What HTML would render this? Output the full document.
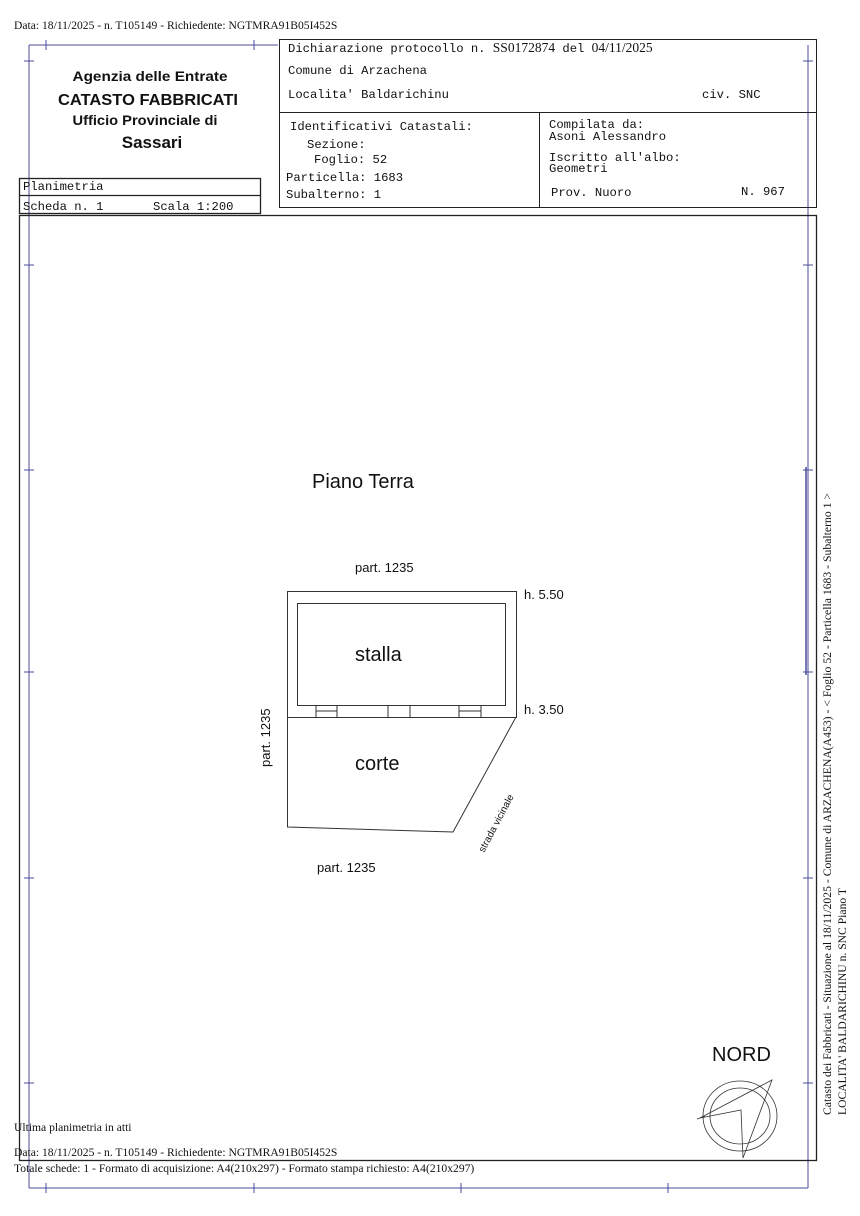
<!DOCTYPE html>
<html><head><meta charset="utf-8"><style>
body{margin:0;background:#fff}
svg{display:block}
.s{font-family:"Liberation Serif",serif}
.m{font-family:"Liberation Mono",monospace}
.a{font-family:"Liberation Sans",sans-serif}
</style></head><body>
<svg width="860" height="1216" viewBox="0 0 860 1216" xmlns="http://www.w3.org/2000/svg">
<g stroke="#4a4e9a" stroke-width="1" fill="none">
<line x1="29" y1="45" x2="29" y2="1188"/>
<line x1="29" y1="1188" x2="808" y2="1188"/>
<line x1="808" y1="45" x2="808" y2="1188"/>
<line x1="29" y1="45" x2="278" y2="45"/>
<line x1="46" y1="40" x2="46" y2="50"/><line x1="254" y1="40" x2="254" y2="50"/>
<line x1="46" y1="1183" x2="46" y2="1193"/><line x1="254" y1="1183" x2="254" y2="1193"/>
<line x1="461" y1="1183" x2="461" y2="1193"/><line x1="668" y1="1183" x2="668" y2="1193"/>
<line x1="24" y1="61" x2="34" y2="61"/><line x1="803" y1="61" x2="813" y2="61"/>
<line x1="24" y1="265" x2="34" y2="265"/><line x1="803" y1="265" x2="813" y2="265"/>
<line x1="24" y1="470" x2="34" y2="470"/><line x1="803" y1="470" x2="813" y2="470"/>
<line x1="24" y1="672" x2="34" y2="672"/><line x1="803" y1="672" x2="813" y2="672"/>
<line x1="24" y1="878" x2="34" y2="878"/><line x1="803" y1="878" x2="813" y2="878"/>
<line x1="24" y1="1083" x2="34" y2="1083"/><line x1="803" y1="1083" x2="813" y2="1083"/>
<line x1="806" y1="467" x2="806" y2="675" stroke-width="1.5"/>
</g>
<g stroke="#222" fill="none" stroke-width="1">
<rect x="19.5" y="215.5" width="797" height="945" stroke-width="1.3"/>
<rect x="279.5" y="39.5" width="537" height="168"/>
<line x1="279" y1="112.5" x2="817" y2="112.5"/>
<line x1="539.5" y1="112" x2="539.5" y2="207"/>
<rect x="19.5" y="178.5" width="241" height="35" stroke-width="1.3"/>
<line x1="19" y1="195.5" x2="260" y2="195.5" stroke-width="1.3"/>
</g>
<g class="s" font-size="11.6" fill="#111">
<text x="14" y="29">Data: 18/11/2025 - n. T105149 - Richiedente: NGTMRA91B05I452S</text>
<text x="14" y="1131">Ultima planimetria in atti</text>
<text x="14" y="1156">Data: 18/11/2025 - n. T105149 - Richiedente: NGTMRA91B05I452S</text>
<text x="14" y="1172">Totale schede: 1 - Formato di acquisizione: A4(210x297)  - Formato stampa richiesto: A4(210x297)</text>
</g>
<g class="a" fill="#111" text-anchor="middle">
<text x="150" y="81" font-size="14" font-weight="bold" textLength="155" lengthAdjust="spacingAndGlyphs">Agenzia delle Entrate</text>
<text x="148" y="105" font-size="16" font-weight="bold" textLength="180" lengthAdjust="spacingAndGlyphs">CATASTO FABBRICATI</text>
<text x="145" y="125" font-size="14" font-weight="bold" textLength="145" lengthAdjust="spacingAndGlyphs">Ufficio Provinciale di</text>
<text x="152" y="148" font-size="17" font-weight="bold">Sassari</text>
</g>
<g class="m" font-size="12.2" fill="#111">
<text x="288" y="52">Dichiarazione protocollo n. <tspan class="s" font-size="13.5">SS0172874</tspan> del <tspan class="s" font-size="13.5">04/11/2025</tspan></text>
<text x="288" y="74">Comune di Arzachena</text>
<text x="288" y="98">Localita' Baldarichinu</text>
<text x="702" y="98">civ. SNC</text>
<text x="290" y="130">Identificativi Catastali:</text>
<text x="307" y="148">Sezione:</text>
<text x="314" y="163">Foglio: 52</text>
<text x="286" y="181">Particella: 1683</text>
<text x="286" y="198">Subalterno: 1</text>
<text x="549" y="128">Compilata da:</text>
<text x="549" y="140">Asoni Alessandro</text>
<text x="549" y="161">Iscritto all'albo:</text>
<text x="549" y="172">Geometri</text>
<text x="551" y="196">Prov. Nuoro</text>
<text x="741" y="195">N. 967</text>
<text x="23" y="190">Planimetria</text>
<text x="23" y="210">Scheda n. 1</text>
<text x="153" y="210">Scala 1:200</text>
</g>
<g stroke="#333" fill="none" stroke-width="1">
<rect x="287.5" y="591.5" width="229" height="126"/>
<rect x="297.5" y="603.5" width="208" height="102"/>
<line x1="316" y1="705" x2="316" y2="717"/><line x1="337" y1="705" x2="337" y2="717"/>
<line x1="316" y1="711" x2="337" y2="711"/>
<line x1="388" y1="705" x2="388" y2="717"/><line x1="410" y1="705" x2="410" y2="717"/>
<line x1="459" y1="705" x2="459" y2="717"/><line x1="481" y1="705" x2="481" y2="717"/>
<line x1="459" y1="711" x2="481" y2="711"/>
<polyline points="287.5,717 287.5,827 453,832 516,717"/>
</g>
<g class="a" fill="#111">
<text x="312" y="488" font-size="20">Piano Terra</text>
<text x="355" y="572" font-size="13">part. 1235</text>
<text x="524" y="599" font-size="13">h. 5.50</text>
<text x="524" y="714" font-size="13">h. 3.50</text>
<text x="355" y="661" font-size="20">stalla</text>
<text x="355" y="770" font-size="20">corte</text>
<text x="317" y="872" font-size="13">part. 1235</text>
<text transform="translate(270,767) rotate(-90)" font-size="13">part. 1235</text>
<text transform="translate(484,853) rotate(-62)" font-size="10">strada vicinale</text>
<text x="712" y="1061" font-size="20">NORD</text>
</g>
<g stroke="#333" fill="none" stroke-width="0.8">
<ellipse cx="740" cy="1116" rx="37" ry="35"/>
<ellipse cx="740" cy="1116" rx="30" ry="28"/>
<polyline points="700,1118 772,1080 743,1158 741,1110 700,1118"/>
<line x1="697" y1="1119" x2="705" y2="1116"/>
</g>
<g class="s" font-size="11.5" fill="#111">
<text transform="translate(831,1115) rotate(-90)" textLength="622" lengthAdjust="spacingAndGlyphs">Catasto dei Fabbricati - Situazione al 18/11/2025 - Comune di ARZACHENA(A453) - &lt; Foglio 52 - Particella 1683 - Subalterno 1 &gt;</text>
<text transform="translate(846,1115) rotate(-90)" textLength="227" lengthAdjust="spacingAndGlyphs">LOCALITA' BALDARICHINU n. SNC Piano T</text>
</g>
</svg>
</body></html>
